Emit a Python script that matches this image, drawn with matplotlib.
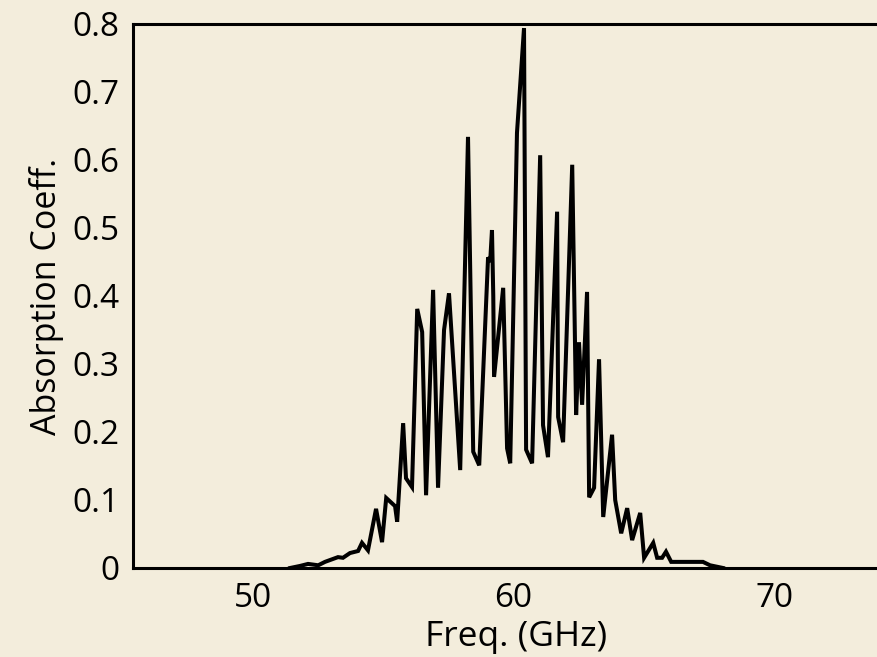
import matplotlib
matplotlib.use("Agg")
import matplotlib.pyplot as plt

# Data
freq_ghz = [51.42, 51.80, 52.11, 52.50, 52.76, 53.26, 53.45, 53.72, 54.03, 54.18,
            54.41, 54.72, 54.95, 55.11, 55.45, 55.53, 55.76, 55.87, 56.10, 56.30,
            56.49, 56.64, 56.91, 57.10, 57.33, 57.52, 57.95, 58.25, 58.45, 58.68,
            59.02, 59.10, 59.17, 59.22, 59.25, 59.60, 59.75, 59.87, 60.13, 60.40,
            60.48, 60.71, 61.02, 61.13, 61.32, 61.67, 61.71, 61.90, 62.25, 62.40,
            62.51, 62.63, 62.82, 62.90, 63.09, 63.28, 63.44, 63.78, 63.90, 64.13,
            64.36, 64.55, 64.86, 65.01, 65.36, 65.51, 65.70, 65.85, 66.05, 67.27,
            67.54, 68.04]
absorption = [0.000, 0.003, 0.006, 0.004, 0.009, 0.016, 0.015, 0.022, 0.025, 0.037,
              0.026, 0.087, 0.038, 0.103, 0.091, 0.068, 0.213, 0.132, 0.119, 0.381,
              0.347, 0.107, 0.409, 0.118, 0.350, 0.404, 0.144, 0.634, 0.171, 0.151,
              0.457, 0.450, 0.497, 0.400, 0.281, 0.412, 0.176, 0.154, 0.640, 0.794,
              0.174, 0.154, 0.607, 0.210, 0.163, 0.524, 0.222, 0.185, 0.593, 0.225,
              0.332, 0.240, 0.406, 0.104, 0.118, 0.307, 0.075, 0.196, 0.100, 0.051,
              0.088, 0.041, 0.081, 0.015, 0.037, 0.015, 0.015, 0.024, 0.009, 0.009,
              0.004, 0.000]

x_ticks = [50, 60, 70]
y_ticks = [0, 0.1, 0.2, 0.3, 0.4, 0.5, 0.6, 0.7, 0.8]
y_tick_labels = ["0", "0.1", "0.2", "0.3", "0.4", "0.5", "0.6", "0.7", "0.8"]

plt.rcParams['font.family'] = ['Open Sans', 'DejaVu Sans']

bg = '#F3EDDC'
fig = plt.figure(figsize=(8.77, 6.57), dpi=100, facecolor=bg)
ax = fig.add_axes([133 / 877, 1 - 568 / 657, 1 - 133 / 877, (568 - 24) / 657])
ax.set_facecolor(bg)

ax.plot(freq_ghz, absorption, color='black', linewidth=2.9, solid_joinstyle='miter')

ax.set_xlim(45.39, 73.95)
ax.set_ylim(0, 0.8)
ax.set_xticks(x_ticks)
ax.set_yticks(y_ticks)
ax.set_yticklabels(y_tick_labels)
ax.tick_params(axis='both', length=0, labelsize=24, pad=10)

for side in ['left', 'bottom', 'top']:
    ax.spines[side].set_linewidth(2.2)
    ax.spines[side].set_color('black')
ax.spines['right'].set_visible(False)

ax.set_xlabel('Freq. (GHz)', fontsize=25.5, labelpad=0)
ax.xaxis.set_label_coords(0.515, -0.095)
ax.set_ylabel('Absorption Coeff.', fontsize=24.5, labelpad=6)

fig.savefig('out.png', dpi=100, facecolor=bg)
